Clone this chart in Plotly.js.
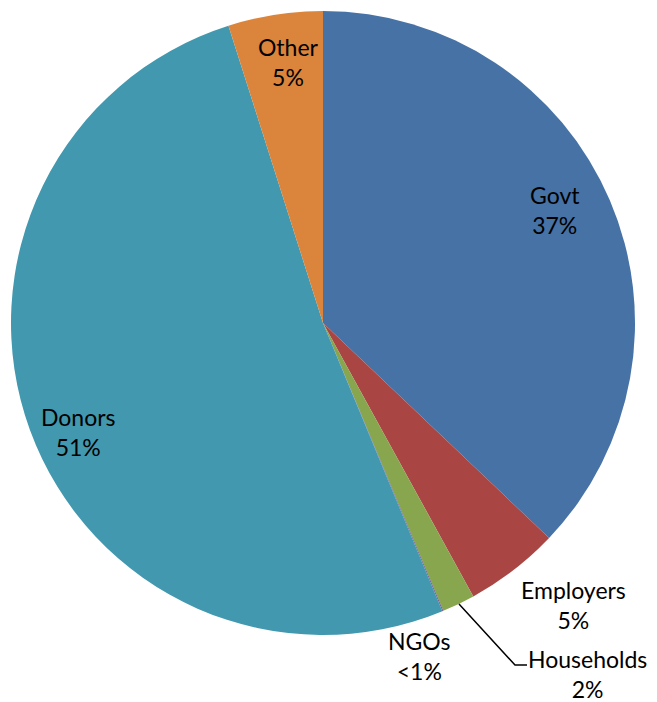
<!DOCTYPE html>
<html>
<head>
<meta charset="utf-8">
<script src="https://cdn.plot.ly/plotly-3.0.1.min.js"></script>
<style>html,body{margin:0;padding:0;background:#fff;}</style>
</head>
<body>
<div id="chart" style="width:657px;height:702px;"></div>
<script>
const categories = ["Govt", "Employers", "Households", "NGOs", "Donors", "Other"];
const values = [37.1, 4.9, 1.7, 0.05, 51.35, 4.9];
const percentLabels = ["37%", "5%", "2%", "<1%", "51%", "5%"];
const colors = ["#4672A6", "#A94643", "#88A64E", "#71588F", "#4298AF", "#DB843C"];

// label centres in pixels (layout only)
const labelPos = {
  "Govt": [555, 210], "Employers": [573, 605], "Households": [587, 674],
  "NGOs": [419, 656], "Donors": [78, 432], "Other": [288, 62]
};
const W = 657, H = 702, L = 11, T = 11, S = 624;
const px2x = p => (p - L) / S;
const px2y = p => (T + S - p) / S;

const annotations = categories.map((c, i) => ({
  xref: "paper", yref: "paper",
  x: px2x(labelPos[c][0]), y: px2y(labelPos[c][1]),
  xanchor: "center", yanchor: "middle",
  text: c + "<br>" + percentLabels[i],
  showarrow: false,
  borderpad: 0,
  font: {family: "Lato, 'Open Sans', sans-serif", size: 23, color: "#000"}
}));

const leader = [[459, 604], [515, 665], [527, 665]];
const shapes = [{
  type: "path", xref: "paper", yref: "paper",
  path: leader.map((p, i) => (i ? "L" : "M") + px2x(p[0]) + "," + px2y(p[1])).join(" "),
  line: {color: "#000", width: 1.5}
}];

Plotly.newPlot("chart", [{
  type: "pie",
  labels: categories,
  values: values,
  sort: false,
  direction: "clockwise",
  rotation: 0,
  textinfo: "none",
  hoverinfo: "label+percent",
  marker: {colors: colors, line: {width: 0}},
  showlegend: false
}], {
  width: W, height: H,
  margin: {l: L, t: T, r: W - L - S, b: H - T - S, pad: 0},
  paper_bgcolor: "#fff",
  annotations: annotations,
  shapes: shapes
}, {displayModeBar: false, staticPlot: true});
</script>
</body>
</html>
